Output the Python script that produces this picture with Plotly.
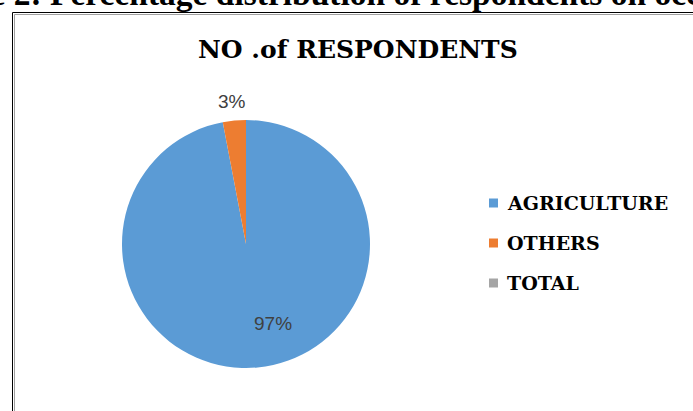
import plotly.graph_objects as go

# Respondents by occupation
labels = ["AGRICULTURE", "OTHERS", "TOTAL"]
values = [97, 3, 0]
colors = ["#5B9BD5", "#ED7D31", "#A5A5A5"]
chart_title = "NO .of RESPONDENTS"
caption = "Figure 2: Percentage distribution of respondents on occupation"

W, H = 693, 411


def px(x):
    return x / W


def py(y):
    return 1 - y / H


total = sum(values)
pct = [round(v / total * 100) for v in values]

# Pie geometry (pixels)
cx, cy, r = 246, 244, 124

fig = go.Figure(
    go.Pie(
        labels=labels,
        values=values,
        marker=dict(colors=colors, line=dict(width=0)),
        sort=False,
        direction="clockwise",
        rotation=0,
        textinfo="none",
        hoverinfo="label+percent",
        showlegend=False,
        domain=dict(x=[px(cx - r), px(cx + r)], y=[py(cy + r), py(cy - r)]),
    )
)

annotations = []
shapes = []

# caption text above the chart frame (cropped by the page edge)
annotations.append(dict(
    text=caption, x=px(-91), y=py(14), xref="paper", yref="paper",
    xanchor="left", yanchor="bottom", showarrow=False,
    font=dict(family="Liberation Serif", size=33.5, color="#000000", weight="bold"),
))

# chart title
annotations.append(dict(
    text=chart_title, x=px(357.5), y=py(50), xref="paper", yref="paper",
    xanchor="center", yanchor="middle", showarrow=False,
    font=dict(family="DejaVu Serif", size=25, color="#000000", weight="bold"),
))

# data labels
label_pos = [(273, 323), (232, 101)]
for (lx, ly), p in zip(label_pos, pct[:2]):
    annotations.append(dict(
        text=f"{p}%", x=px(lx), y=py(ly), xref="paper", yref="paper",
        xanchor="center", yanchor="middle", showarrow=False,
        font=dict(family="Liberation Sans", size=19, color="#404040"),
    ))

# legend entries
legend_y = [203, 243, 283]
for name, col, ly in zip(labels, colors, legend_y):
    shapes.append(dict(
        type="rect", xref="paper", yref="paper",
        x0=px(489), x1=px(498), y0=py(ly - 4.5), y1=py(ly + 4.5),
        fillcolor=col, line=dict(width=0),
    ))
    annotations.append(dict(
        text=name, x=px(505), y=py(ly), xref="paper", yref="paper",
        xanchor="left", yanchor="middle", showarrow=False,
        font=dict(family="DejaVu Serif", size=19, color="#000000", weight="bold"),
    ))

# double-line frame around the chart area
shapes.append(dict(
    type="rect", xref="paper", yref="paper",
    x0=px(12.5), x1=px(W + 20), y0=py(H + 20), y1=py(12.5),
    line=dict(color="#000000", width=1), fillcolor="rgba(0,0,0,0)",
))
shapes.append(dict(
    type="rect", xref="paper", yref="paper",
    x0=px(14.5), x1=px(W + 20), y0=py(H + 20), y1=py(14.5),
    line=dict(color="#A0A0A0", width=1), fillcolor="rgba(0,0,0,0)",
))

fig.update_layout(
    width=W, height=H,
    margin=dict(l=0, r=0, t=0, b=0),
    paper_bgcolor="#FFFFFF",
    plot_bgcolor="#FFFFFF",
    annotations=annotations,
    shapes=shapes,
)

fig.write_html("out.html")
